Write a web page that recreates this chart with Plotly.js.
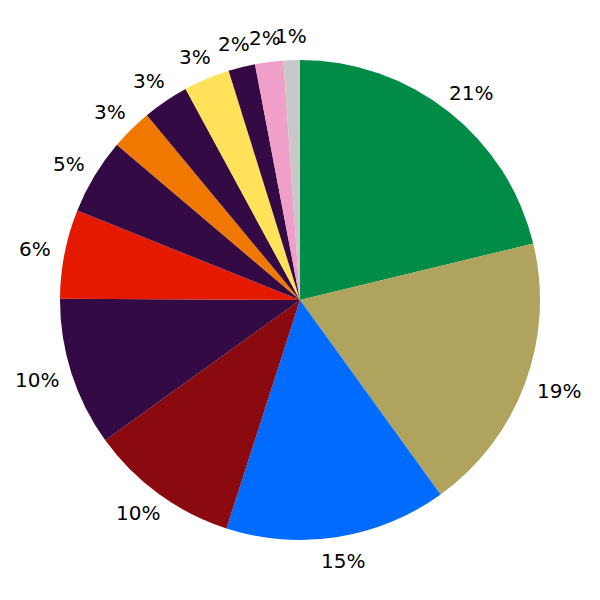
<!DOCTYPE html>
<html>
<head>
<meta charset="utf-8">
<script src="https://cdn.plot.ly/plotly-3.0.1.min.js"></script>
<style>html,body{margin:0;padding:0;background:#fff;}#chart{width:600px;height:600px;}</style>
</head>
<body>
<div id="chart"></div>
<script>
var labels = ["A","B","C","D","E","F","G","H","I","J","K","L","M"];
var values = [21.2, 18.8, 14.9, 10.1, 10.0, 6.0, 5.1, 2.8, 3.1, 3.1, 1.8, 1.9, 1.1];
var colors = ["#008C46","#B0A35E","#006BFF","#8B0A10","#330A44","#E31A00","#330A44","#F07800","#330A44","#FFE25A","#330A44","#F0A0C8","#C8C8C8"];

var W = 600, H = 600, M = 60;
var plotPx = W - 2 * M;          // pie domain size in px
var R = plotPx / 2;              // pie radius in px
var labelR = R + 14;             // distance of label's nearest edge
var fontSize = 20;

var total = values.reduce(function (a, b) { return a + b; }, 0);
var annotations = [];
var cum = 0;
values.forEach(function (v) {
  var mid = (cum + v / 2) / total * 2 * Math.PI; // clockwise from 12 o'clock
  cum += v;
  var txt = Math.round(v / total * 100) + "%";
  var digits = txt.length - 1;
  var w = digits * 0.636 * fontSize + 0.95 * fontSize;
  var h = fontSize;
  var s = Math.sin(mid), c = Math.cos(mid);
  var dxPx = labelR * s + (w / 2) * s;
  var dyPx = labelR * c + (h / 2) * c;   // upward positive
  annotations.push({
    xref: "paper", yref: "paper",
    x: 0.5 + dxPx / plotPx,
    y: 0.5 + dyPx / plotPx,
    xanchor: "center", yanchor: "middle",
    text: txt, showarrow: false,
    font: {family: "DejaVu Sans", size: fontSize, color: "#000"}
  });
});

var trace = {
  type: "pie",
  labels: labels,
  values: values,
  sort: false,
  direction: "clockwise",
  rotation: 0,
  marker: {colors: colors, line: {width: 0}},
  textinfo: "none",
  automargin: false,
  hoverinfo: "none",
  showlegend: false
};
var layout = {
  width: W, height: H,
  margin: {l: M, r: M, t: M, b: M},
  paper_bgcolor: "#fff",
  showlegend: false,
  annotations: annotations
};
Plotly.newPlot("chart", [trace], layout, {staticPlot: true});
</script>
</body>
</html>
